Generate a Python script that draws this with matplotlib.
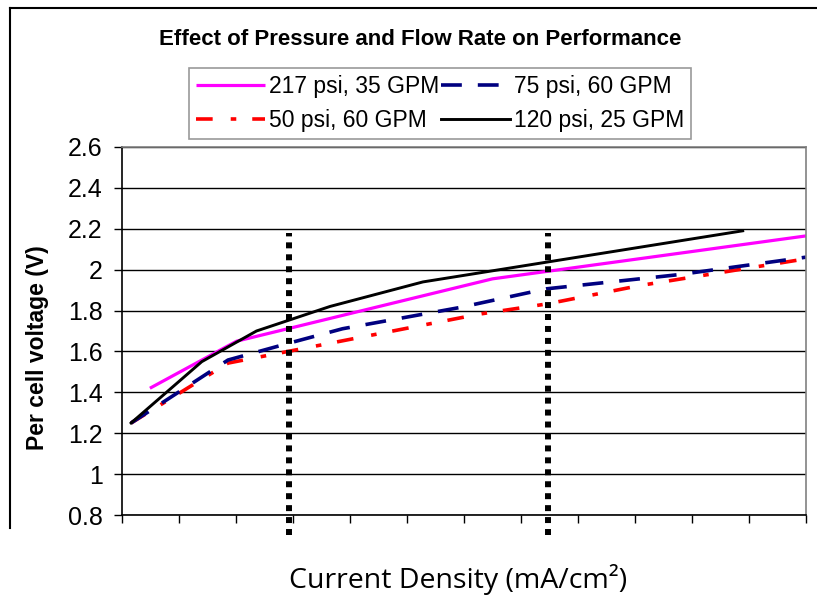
import matplotlib
matplotlib.use("Agg")
import matplotlib.pyplot as plt
from matplotlib.lines import Line2D

plt.rcParams["font.family"] = ["Liberation Sans", "DejaVu Sans"]
plt.rcParams["lines.scale_dashes"] = False

# data (x in mA/cm2: one tick = 100)
x_217 = [49, 201, 650, 1200]
v_217 = [1.42, 1.65, 1.955, 2.165]

x_75 = [16, 186, 295, 387, 593, 744, 978, 1200]
v_75 = [1.25, 1.558, 1.642, 1.711, 1.815, 1.906, 1.976, 2.061]

x_50 = [16, 186, 295, 628, 747, 908, 1200]
v_50 = [1.25, 1.543, 1.602, 1.783, 1.833, 1.922, 2.053]

x_120 = [16, 140, 236, 365, 528, 1089]
v_120 = [1.25, 1.55, 1.70, 1.82, 1.94, 2.19]

marker_x = [293, 747]
marker_v = [0.70, 2.18]

y_ticks = [0.8, 1, 1.2, 1.4, 1.6, 1.8, 2, 2.2, 2.4, 2.6]
y_labels = ["0.8", "1", "1.2", "1.4", "1.6", "1.8", "2", "2.2", "2.4", "2.6"]

fig = plt.figure(figsize=(8.17, 5.96), dpi=100)
ax = fig.add_axes([0.1493, 0.1359, 0.8372, 0.6175])

l217, = ax.plot(x_217, v_217, color="#ff00ff", lw=2.3, solid_capstyle="butt")
l50, = ax.plot(x_50, v_50, color="#ff0000", lw=2.6, dashes=(12, 13, 4, 11.5))
l75, = ax.plot(x_75, v_75, color="#000080", lw=2.6, dashes=(15, 11.5))
l120, = ax.plot(x_120, v_120, color="black", lw=2.1)

for mx in marker_x:
    ax.plot([mx, mx], marker_v, color="black", lw=4.3, dashes=(4.3, 4.3),
            solid_capstyle="butt", dash_capstyle="butt", clip_on=False, zorder=5)

ax.set_xlim(0, 1200)
ax.set_ylim(0.8, 2.6)
ax.set_xticks(range(0, 1201, 100))
ax.set_xticklabels([])
ax.set_yticks(y_ticks)
ax.set_yticklabels(y_labels, fontsize=18)
ax.tick_params(axis="both", direction="out", length=6, width=1, color="black", pad=8)

ax.yaxis.grid(True, color="black", lw=1)
ax.set_axisbelow(True)
ax.spines["left"].set_color("black")
ax.spines["bottom"].set_color("black")
ax.spines["top"].set_color("#808080")
ax.spines["right"].set_color("#808080")
for s in ax.spines.values():
    s.set_linewidth(1.2)

fig.text(0.0453, 0.417, "Per cell voltage (V)", fontsize=16.5, fontweight="bold",
         rotation=90, ha="center", va="center")
fig.text(0.561, 0.027, "Current Density (mA/cm²)", fontsize=20.5,
         family=["Open Sans", "DejaVu Sans"], ha="center", va="center")
fig.text(0.514, 0.933, "Effect of Pressure and Flow Rate on Performance",
         fontsize=16, fontweight="bold", ha="center", va="center")

leg = fig.legend([l217, l50, l75, l120],
                 ["217 psi, 35 GPM", "50 psi, 60 GPM", "75 psi, 60 GPM", "120 psi, 25 GPM"],
                 ncol=2, loc="center", bbox_to_anchor=(0.5386, 0.8263),
                 fontsize=16.5, frameon=True, fancybox=False, handlelength=3.0,
                 handletextpad=0.17, columnspacing=0.1, labelspacing=0.45,
                 borderpad=0.3, borderaxespad=0)
leg.get_frame().set_edgecolor("#808080")
leg.get_frame().set_linewidth(1.2)

# outer chart border (cropped: only top and left edges show)
fig.add_artist(Line2D([10 / 817, 1.0], [1 - 8 / 596, 1 - 8 / 596], color="black", lw=1.5))
fig.add_artist(Line2D([10 / 817, 10 / 817], [1 - 8 / 596, 1 - 528 / 596], color="black", lw=1.5))

fig.savefig("out.png", dpi=100)
